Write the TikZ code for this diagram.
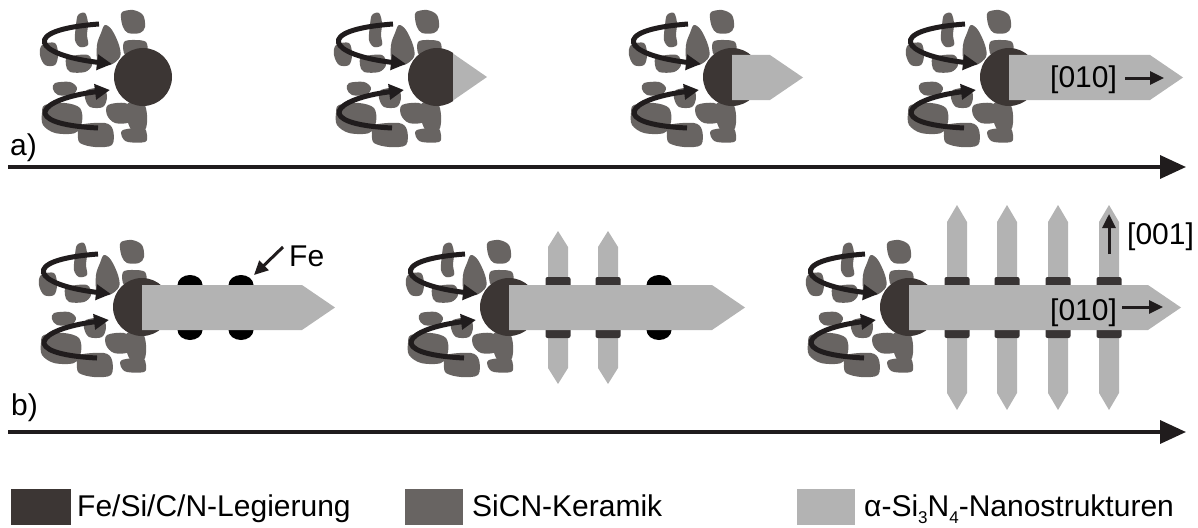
\documentclass[tikz,border=0pt]{standalone}
\usepackage{fontspec}
\setmainfont{Liberation Sans}
\usetikzlibrary{arrows.meta}

\definecolor{alloy}{HTML}{3C3634}
\definecolor{ceramic}{HTML}{686462}
\definecolor{nano}{HTML}{B3B3B3}
\definecolor{ink}{HTML}{201C1D}
\definecolor{band}{HTML}{383434}

\newcommand\lowsub[1]{\raisebox{-0.25em}{\fontsize{17}{17}\selectfont #1}}

% horizontal nanowire: start x, end of straight part, centre y
\newcommand\hwire[3]{\fill[nano] (#1,#3-22.5) -- (#2,#3-22.5) -- (#2+33,#3) -- (#2,#3+22.5) -- (#1,#3+22.5) -- cycle;}
% vertical nanowire: centre x, top tip y, bottom tip y, tip length
\newcommand\vwire[4]{\fill[nano] (#1-10,#2+#4) -- (#1,#2) -- (#1+10,#2+#4) -- (#1+10,#3-#4) -- (#1,#3) -- (#1-10,#3-#4) -- cycle;}
% dark bands where a vertical wire meets the main wire (centre y 307)
\newcommand\bands[1]{\fill[band, rounded corners=2pt] (#1-12.5,277) rectangle (#1+12.5,287);
  \fill[band, rounded corners=2pt] (#1-12.5,328) rectangle (#1+12.5,338);}
% iron droplets on both sides of the main wire
\newcommand\fedots[1]{\fill[black] (#1,285) ellipse [x radius=12.5, y radius=10];
  \fill[black] (#1,330) ellipse [x radius=12.5, y radius=10];}

\tikzset{
  spin/.style={draw=ink, line width=5pt, -{Triangle[length=15pt,width=15pt]}},
  timeline/.style={draw=ink, line width=3.5pt, -{Triangle[length=26pt,width=23pt]}},
  dirarrow/.style={draw=ink, line width=3pt, -{Triangle[length=14pt,width=13pt]}},
  txt/.style={font=\fontsize{30}{36}\selectfont, inner sep=0pt, text=black},
  grains/.pic={
    \fill[ceramic] plot[smooth cycle, tension=0.55] coordinates {(-65,-62) (-58,-64) (-55,-54) (-56,-42) (-55,-32) (-63,-30) (-68,-37) (-67,-52)};
    \fill[ceramic] plot[smooth cycle, tension=0.55] coordinates {(-21,-65) (-10,-67) (0,-62) (2,-50) (-3,-44) (-15,-44) (-20,-50) (-22,-59)};
    \fill[ceramic] plot[smooth cycle, tension=0.55] coordinates {(-38,-52) (-31,-47) (-24,-32) (-23,-20) (-33,-12) (-45,-15) (-46,-32) (-42,-44)};
    \fill[ceramic] plot[smooth cycle, tension=0.55] coordinates {(-19,-35) (-8,-37) (3,-35) (4,-25) (-5,-20) (-18,-22)};
    \fill[ceramic] plot[smooth cycle, tension=0.55] coordinates {(-101,-32) (-88,-34) (-85,-22) (-88,-12) (-98,-12) (-103,-22)};
    \fill[ceramic] plot[smooth cycle, tension=0.55] coordinates {(-75,-20) (-55,-22) (-51,-12) (-58,-5) (-73,-5) (-77,-12)};
    \fill[ceramic] plot[smooth cycle, tension=0.55] coordinates {(-88,6) (-73,5) (-66,11) (-71,18) (-85,18) (-90,12)};
    \fill[ceramic] plot[smooth cycle, tension=0.55] coordinates {(-56,13) (-40,11) (-36,20) (-40,30) (-53,30) (-58,21)};
    \fill[ceramic] plot[smooth cycle, tension=0.55] coordinates {(-98,28) (-78,26) (-63,31) (-61,45) (-68,56) (-88,56) (-100,48) (-101,36)};
    \fill[ceramic] plot[smooth cycle, tension=0.55] coordinates {(-35,28) (-18,26) (-10,33) (-13,45) (-28,46) (-36,38)};
    \fill[ceramic] plot[smooth cycle, tension=0.55] coordinates {(-15,26) (0,26) (4,38) (2,53) (-11,53) (-16,41)};
    \fill[ceramic] plot[smooth cycle, tension=0.55] coordinates {(-63,48) (-38,46) (-30,53) (-31,68) (-48,70) (-63,66) (-65,57)};
    \fill[ceramic] plot[smooth cycle, tension=0.55] coordinates {(-20,53) (0,51) (4,58) (2,65) (-15,65) (-21,60)};
    \draw[spin] (-44,-53) .. controls (-125,-47) and (-108,-22) .. (-31,-13);
    \draw[spin] (-45,51) .. controls (-125,47) and (-105,22) .. (-33,13);
  }
}

\begin{document}
\begin{tikzpicture}[x=1pt,y=-1pt]
\useasboundingbox (0,0) rectangle (1198,527);

% ---------- row a) ----------
\pic at (143,77) {grains};
\fill[alloy] (143,77) circle [radius=29];

\pic at (437,77) {grains};
\begin{scope}
  \clip (390,40) rectangle (453,115);
  \fill[alloy] (437,77) circle [radius=29];
\end{scope}
\fill[nano] (453,53.5) -- (487,77) -- (453,100.5) -- cycle;

\pic at (732,77) {grains};
\fill[alloy] (732,77) circle [radius=29];
\hwire{732}{770}{77.5}

\pic at (1009,77) {grains};
\fill[alloy] (1009,77) circle [radius=29];
\hwire{1009}{1150}{77.5}
\node[txt, anchor=base west] (dirA) at (1050,87) {[010]};
\coordinate (dirAs) at (1125,78);
\coordinate (dirAe) at (1164,78);
\draw[dirarrow] (dirAs) -- (dirAe);

\node[txt, anchor=base west] (labA) at (10,155) {a)};
\coordinate (tA0) at (8,167);
\coordinate (tA1) at (1186,167);
\draw[timeline] (tA0) -- (tA1);

% ---------- row b) ----------
\pic at (142,307) {grains};
\fill[alloy] (142,307) circle [radius=29];
\fedots{190}
\fedots{241}
\hwire{142}{302}{307.5}
\node[txt, anchor=base west] (fe) at (289,266) {Fe};
\coordinate (feTail) at (283,247);
\coordinate (feTip) at (254,275);
\draw[dirarrow] (feTail) -- (feTip);

\pic at (509,307) {grains};
\fill[alloy] (509,307) circle [radius=29];
\vwire{558}{231}{384}{16}
\vwire{608}{231}{384}{16}
\bands{558}
\bands{608}
\fedots{659}
\hwire{509}{712}{307.5}

\pic at (909,307) {grains};
\fill[alloy] (909,307) circle [radius=29];
\vwire{957}{205}{410}{17}
\vwire{1007}{205}{410}{17}
\vwire{1058}{205}{410}{17}
\vwire{1109}{205}{410}{17}
\bands{957}
\bands{1007}
\bands{1058}
\bands{1109}
\hwire{909}{1148}{307.5}
\node[txt, anchor=base west] (dirB) at (1050,320) {[010]};
\coordinate (dirBs) at (1122,307);
\coordinate (dirBe) at (1163,307);
\draw[dirarrow] (dirBs) -- (dirBe);
\node[txt, anchor=base west] (dirC) at (1127,244) {[001]};
\coordinate (dirCs) at (1109,254);
\coordinate (dirCe) at (1109,214);
\draw[dirarrow] (dirCs) -- (dirCe);

\node[txt, anchor=base west] (labB) at (11,415) {b)};
\coordinate (tB0) at (8,432);
\coordinate (tB1) at (1186,432);
\draw[timeline] (tB0) -- (tB1);

% ---------- legend ----------
\fill[alloy] (11,489) rectangle (71,525);
\node[txt, anchor=base west] (legA) at (77,516) {Fe/Si/C/N-Legierung};
\fill[ceramic] (405,489) rectangle (463,525);
\node[txt, anchor=base west] (legB) at (472,516) {SiCN-Keramik};
\fill[nano] (797,489) rectangle (855,525);
\node[txt, anchor=base west] (legC) at (864,516) {α-Si\lowsub{3}N\lowsub{4}-Nanostrukturen};
\end{tikzpicture}
\end{document}
